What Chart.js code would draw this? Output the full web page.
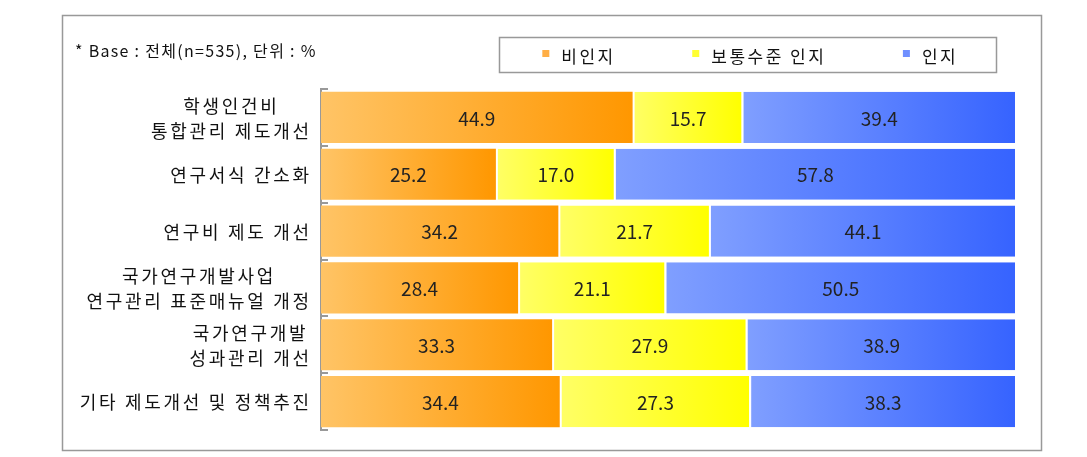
<!DOCTYPE html>
<html><head><meta charset="utf-8">
<script src="https://cdn.jsdelivr.net/npm/chart.js@4/dist/chart.umd.min.js"></script>
<style>html,body{margin:0;padding:0;background:#fff;}#wrap{width:1087px;height:457px;}</style>
</head><body><div id="wrap"><canvas id="c" width="1087" height="457"></canvas></div>
<script>
// ---- data ----
const categories = [["학생인건비","통합관리 제도개선"],["연구서식 간소화"],["연구비 제도 개선"],["국가연구개발사업","연구관리 표준매뉴얼 개정"],["국가연구개발","성과관리 개선"],["기타 제도개선 및 정책추진"]];
const seriesNames = ["비인지","보통수준 인지","인지"];
const notAware = [44.9,25.2,34.2,28.4,33.3,34.4];
const normalAware = [15.7,17.0,21.7,21.1,27.9,27.3];
const aware = [39.4,57.8,44.1,50.5,38.9,38.3];
const noteText = "* Base : 전체(n=535), 단위 : %";

// ---- style ----
const FONT = '"Noto Sans CJK KR", "Noto Sans", sans-serif';
const palette = [
  {light:'#FFC466', dark:'#FF9700', key:'#FFAE45'},
  {light:'#FFFF66', dark:'#FFFF00', key:'#FFFF33'},
  {light:'#809FFF', dark:'#3663FF', key:'#6F8FFF'}
];

function grad(p){
  return (ctx) => {
    const chart = ctx.chart; const xs = chart.scales.x;
    if (!xs || ctx.type !== 'data') return p.dark;
    const idx = ctx.dataIndex; let start = 0;
    for (let d = 0; d < ctx.datasetIndex; d++) start += chart.data.datasets[d].data[idx];
    const v = chart.data.datasets[ctx.datasetIndex].data[idx];
    const x0 = xs.getPixelForValue(start), x1 = xs.getPixelForValue(start + v);
    if (!isFinite(x0) || !isFinite(x1) || x1 <= x0) return p.dark;
    const g = chart.ctx.createLinearGradient(x0, 0, x1, 0);
    g.addColorStop(0, p.light); g.addColorStop(1, p.dark);
    return g;
  };
}

const seriesData = [notAware, normalAware, aware];
const datasets = seriesData.map((arr, i) => ({
  label: seriesNames[i],
  data: arr,
  backgroundColor: grad(palette[i]),
  borderColor: '#ffffff',
  borderWidth: i === 0 ? 0 : {left: 2, right: 0, top: 0, bottom: 0},
  borderSkipped: false,
  barPercentage: 0.9,
  categoryPercentage: 1.0
}));

const deco = {
  id: 'deco',
  beforeDraw(chart){
    const c = chart.ctx; c.save(); c.fillStyle = '#fff'; c.fillRect(0,0,chart.width,chart.height); c.restore();
  },
  afterDatasetsDraw(chart){
    const c = chart.ctx; c.save();
    c.font = '19px ' + FONT; c.fillStyle = '#222'; c.textAlign = 'center'; c.textBaseline = 'middle';
    chart.getSortedVisibleDatasetMetas().forEach(meta => {
      meta.data.forEach((el, j) => {
        const v = chart.data.datasets[meta.index].data[j];
        const x = (el.x + el.base) / 2 + (meta.index === 0 ? 0 : 1);
        c.fillText(v.toFixed(1), x, el.y + 1);
      });
    });
    c.restore();
  },
  afterDraw(chart){
    const c = chart.ctx; c.save();
    // outer frame
    c.strokeStyle = '#999'; c.lineWidth = 1.5;
    c.strokeRect(62.5, 15.5, 979, 435);
    // note
    c.fillStyle = '#111'; c.textBaseline = 'middle'; c.textAlign = 'left';
    c.font = '16px ' + FONT; c.letterSpacing = '1.3px';
    c.fillText(noteText, 75, 51);
    // legend
    c.strokeRect(499.5, 37.5, 497, 35);
    c.font = '17px ' + FONT; c.letterSpacing = '2.5px';
    const gap = 79, box = 7, tgap = 12;
    const widths = seriesNames.map(s => c.measureText(s).width - 2.5);
    const total = widths.reduce((a,w)=>a+box+tgap+w,0) + gap*(seriesNames.length-1);
    let x = 749 - total/2;
    seriesNames.forEach((s,i) => {
      c.fillStyle = palette[i].key; c.fillRect(x, 50, box, box);
      c.fillStyle = '#111'; c.fillText(s, x + box + tgap, 57);
      x += box + tgap + widths[i] + gap;
    });
    // category labels
    const ys = chart.scales.y;
    c.font = '18px ' + FONT; c.letterSpacing = '2.7px'; c.textAlign = 'left'; c.fillStyle = '#111';
    categories.forEach((lines, i) => {
      const yc = ys.getPixelForValue(i);
      const ws = lines.map(l => c.measureText(l).width - 2.7);
      const maxW = Math.max(...ws);
      const cx = 309 - maxW/2;
      const lh = 25;
      lines.forEach((l, k) => c.fillText(l, cx - ws[k]/2, yc + (k - (lines.length-1)/2)*lh + 1));
    });
    c.letterSpacing = '0px';
    // inner ticks
    const left = chart.chartArea.left;
    c.strokeStyle = '#999'; c.lineWidth = 2;
    for (let i = 0; i <= categories.length; i++) {
      const y = Math.round(ys.getPixelForValue(i - 0.5));
      c.beginPath(); c.moveTo(left - 1, y); c.lineTo(left + 7, y); c.stroke();
    }
    c.restore();
  }
};

new Chart(document.getElementById('c'), {
  type: 'bar',
  data: { labels: categories, datasets },
  options: {
    indexAxis: 'y', responsive: false, animation: false,
    layout: { padding: { left: 0, top: 89, right: 72, bottom: 27 } },
    plugins: { legend: { display: false }, tooltip: { enabled: false } },
    scales: {
      x: { stacked: true, min: 0, max: 100, display: false },
      y: { stacked: true, grid: { display: false }, ticks: { display: false },
           border: { display: true, color: '#999', width: 2 },
           afterFit: (s) => { s.width = 321; } }
    }
  },
  plugins: [deco]
});
</script></body></html>
